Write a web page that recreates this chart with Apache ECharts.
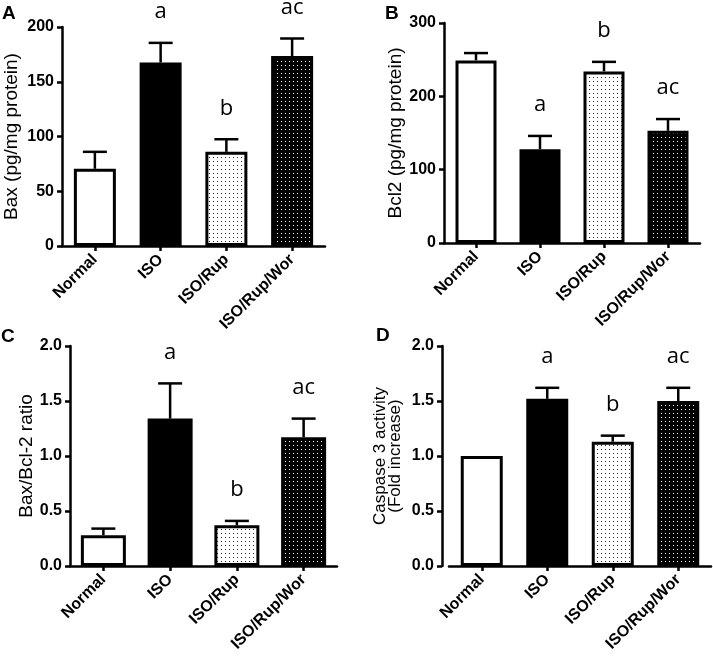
<!DOCTYPE html>
<html>
<head>
<meta charset="utf-8">
<script src="https://cdn.jsdelivr.net/npm/echarts@6/dist/echarts.min.js"></script>
<style>
  html, body { margin: 0; background: #fff; }
  #chart { width: 713px; height: 659px; }
</style>
</head>
<body>
<div id="chart"></div>
<script>
// groups shared by the four panels
const groups = ['Normal', 'ISO', 'ISO/Rup', 'ISO/Rup/Wor'];

// A - Bax (pg/mg protein)
const baxMean = [70.5, 167.5, 86, 173.5];
const baxSem = [15.5, 18, 11.5, 16];
const baxMarks = ['', 'a', 'b', 'ac'];
const baxScale = [0, 200, 50]; // min, max, step

// B - Bcl2 (pg/mg protein)
const bcl2Mean = [249, 128, 234, 153];
const bcl2Sem = [10, 18, 13, 16];
const bcl2Marks = ['', 'a', 'b', 'ac'];
const bcl2Scale = [0, 300, 100];

// C - Bax/Bcl-2 ratio
const ratioMean = [0.28, 1.34, 0.37, 1.17];
const ratioSem = [0.06, 0.32, 0.04, 0.17];
const ratioMarks = ['', 'a', 'b', 'ac'];
const ratioScale = [0, 2, 0.5];

// D - Caspase 3 activity (fold increase)
const caspMean = [1.0, 1.52, 1.13, 1.5];
const caspSem = [0, 0.1, 0.055, 0.12];
const caspMarks = ['', 'a', 'b', 'ac'];
const caspScale = [0, 2, 0.5];

// dotted fills, like the Prism patterns
function dotPattern(bg, dot) {
    const c = document.createElement('canvas');
    c.width = 4;
    c.height = 4;
    const g = c.getContext('2d');
    g.fillStyle = bg;
    g.fillRect(0, 0, 4, 4);
    g.fillStyle = dot;
    g.fillRect(1, 1, 1, 1);
    return { image: c, repeat: 'repeat' };
}
const fills = ['#ffffff', '#000000', dotPattern('#ffffff', '#222222'), dotPattern('#000000', '#ffffff')];

const panels = [
    { tag: 'A', name: 'Bax (pg/mg protein)', mean: baxMean, sem: baxSem, marks: baxMarks, scale: baxScale,
      grid: { left: 62, top: 27, width: 263, height: 219 }, barWidth: 42, nameGap: 42, nameSize: 19, decimals: 0,
      title: { left: 2, top: 4 } },
    { tag: 'B', name: 'Bcl2 (pg/mg protein)', mean: bcl2Mean, sem: bcl2Sem, marks: bcl2Marks, scale: bcl2Scale,
      grid: { left: 444, top: 23, width: 256, height: 220 }, barWidth: 41, nameGap: 37, nameSize: 19, decimals: 0,
      title: { left: 385, top: 4 } },
    { tag: 'C', name: 'Bax/Bcl-2 ratio', mean: ratioMean, sem: ratioSem, marks: ratioMarks, scale: ratioScale,
      grid: { left: 70, top: 346, width: 267, height: 220 }, barWidth: 45, nameGap: 34, nameSize: 19, decimals: 1,
      title: { left: 1, top: 327 } },
    { tag: 'D', name: 'Caspase 3 activity\n(Fold increase)', mean: caspMean, sem: caspSem, marks: caspMarks, scale: caspScale,
      grid: { left: 449, top: 346, width: 262, height: 220 }, barWidth: 42, nameGap: 39, nameSize: 17, decimals: 1,
      yOffset: 7, title: { left: 376, top: 326 } }
];

const axisLine = { show: true, lineStyle: { color: '#000', width: 2.5 } };
const axisTick = { show: true, length: 5, lineStyle: { color: '#000', width: 2.5 } };

function errorSeries(idx, p) {
    return {
        type: 'custom',
        xAxisIndex: idx,
        yAxisIndex: idx,
        z: 3,
        clip: false,
        data: p.mean.map((m, i) => [i, m, m + p.sem[i]]),
        renderItem(params, api) {
            const i = api.value(0);
            const base = api.coord([i, api.value(1)]);
            const top = api.coord([i, api.value(2)]);
            const children = [];
            if (api.value(2) > api.value(1)) {
                children.push({ type: 'line', shape: { x1: base[0], y1: base[1], x2: top[0], y2: top[1] },
                    style: { stroke: '#000', lineWidth: 2.5 } });
                children.push({ type: 'line', shape: { x1: top[0] - 12, y1: top[1], x2: top[0] + 12, y2: top[1] },
                    style: { stroke: '#000', lineWidth: 2.5 } });
            }
            const mark = p.marks[params.dataIndex];
            if (mark) {
                children.push({ type: 'text', style: { text: mark, x: top[0], y: top[1] - 31, align: 'center',
                    verticalAlign: 'middle', fontSize: 22, fontFamily: '"Open Sans"', fill: '#000' } });
            }
            return { type: 'group', children };
        }
    };
}

const chart = echarts.init(document.getElementById('chart'));
chart.setOption({
    animation: false,
    backgroundColor: '#fff',
    title: panels.map(p => ({
        text: p.tag, left: p.title.left, top: p.title.top, padding: 0,
        textStyle: { fontFamily: 'Liberation Sans', fontWeight: 'bold', fontSize: 19, color: '#000' }
    })),
    grid: panels.map(p => p.grid),
    xAxis: panels.map((p, i) => ({
        type: 'category',
        gridIndex: i,
        data: groups,
        axisLine,
        axisTick: { ...axisTick, alignWithLabel: true },
        axisLabel: { rotate: 45, interval: 0, margin: 11, color: '#000', fontFamily: 'Liberation Sans',
            fontWeight: 'bold', fontSize: 16 }
    })),
    yAxis: panels.map((p, i) => ({
        type: 'value',
        gridIndex: i,
        min: p.scale[0],
        max: p.scale[1],
        interval: p.scale[2],
        offset: p.yOffset || 0,
        name: p.name,
        nameLocation: 'middle',
        nameGap: p.nameGap,
        nameTextStyle: { color: '#000', fontFamily: 'Liberation Sans', fontSize: p.nameSize, lineHeight: p.nameSize - 2 },
        splitLine: { show: false },
        axisLine,
        axisTick,
        axisLabel: { margin: 8, color: '#000', fontFamily: 'Liberation Sans', fontWeight: 'bold', fontSize: 16,
            formatter: v => v.toFixed(p.decimals) }
    })),
    series: panels.flatMap((p, i) => [
        {
            type: 'bar',
            xAxisIndex: i,
            yAxisIndex: i,
            barWidth: p.barWidth,
            silent: true,
            data: p.mean.map((v, k) => ({ value: v, itemStyle: { color: fills[k] } })),
            itemStyle: { borderColor: '#000', borderWidth: 3 }
        },
        errorSeries(i, p)
    ])
});
</script>
</body>
</html>
